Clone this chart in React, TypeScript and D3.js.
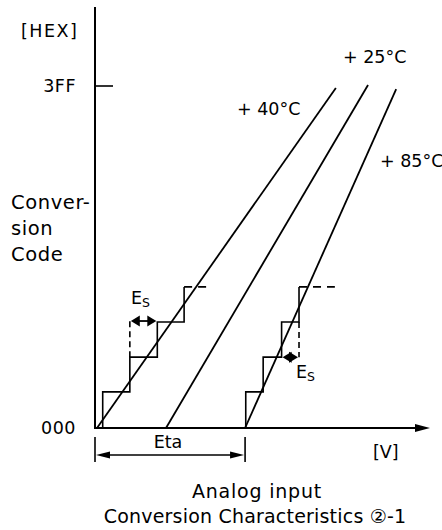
import * as d3 from "d3"

// analog input in arbitrary volts (0..100), output code 0..0x3FF
const curveLabels = ["+ 40°C", "+ 25°C", "+ 85°C"]
const curveStartV = [0.6, 21.2, 44.8]
const curveEndV = [71.9, 81.5, 89.9]
const curveEndCode = [1017, 1026, 1014]

const stepCodes = [0, 108, 212, 317, 422]
const stairLeftV = [2.3, 10.4, 18.6, 26.6]
const stairRightV = [45, 50.2, 55.7, 60.9]
const dashEndV = [34.9, 71.6]

const yTicks = [
  { code: 0, label: "000" },
  { code: 1023, label: "3FF" },
]
const yTitle = ["Conver-", "sion", "Code"]
const etaV = [0, 44.8]

const W = 442
const H = 530
const FONT = "'DejaVu Sans', sans-serif"

function arrowHead(tx: number, ty: number, dx: number, dy: number, len: number, half: number) {
  // dx,dy unit direction the arrow points to
  const bx = tx - dx * len
  const by = ty - dy * len
  const px = -dy
  const py = dx
  return `M${tx},${ty}L${bx + px * half},${by + py * half}L${bx - px * half},${by - py * half}Z`
}

export default function App() {
  const x = d3.scaleLinear().domain([0, 100]).range([95, 430])
  const y = d3.scaleLinear().domain([0, 1023]).range([428, 86])
  const line = d3
    .line<[number, number]>()
    .x((d) => x(d[0]))
    .y((d) => y(d[1]))

  const stairPts = (vs: number[]) => {
    const pts: [number, number][] = [[vs[0], 0]]
    for (let i = 0; i < vs.length; i++) {
      pts.push([vs[i], stepCodes[i + 1]])
      if (i < vs.length - 1) pts.push([vs[i + 1], stepCodes[i + 1]])
    }
    return pts
  }

  const x0 = x(0)
  const y0 = y(0)
  const axisTopY = 7
  const axisEndX = x(100)

  const labelPos = [
    { x: 237, y: 115 },
    { x: 343, y: 63 },
    { x: 380, y: 167 },
  ]

  const esLeftY = y(320)
  const esRightY = y(stepCodes[2])
  const etaY = 455
  const fs = 17.5

  return (
    <div style={{ position: "absolute", left: 0, top: 0 }}>
      <svg width={W} height={H} style={{ display: "block", background: "#fff" }} fontFamily={FONT}>
        {/* axes */}
        <line x1={x0} y1={axisTopY} x2={x0} y2={y0 + 1} stroke="#000" strokeWidth={2} />
        <line x1={x0} y1={y0} x2={axisEndX - 10} y2={y0} stroke="#000" strokeWidth={2} />
        <path d={arrowHead(axisEndX, y0, 1, 0, 15, 4)} fill="#000" />
        <line x1={x0} y1={y(1023)} x2={x0 + 18} y2={y(1023)} stroke="#000" strokeWidth={1.6} />

        {yTicks.map((t) => (
          <text key={t.label} x={76} y={y(t.code) + 6} fontSize={fs} textAnchor="end" letterSpacing={0.5}>
            {t.label}
          </text>
        ))}
        <text x={21} y={37} fontSize={fs} letterSpacing={1.5}>[HEX]</text>
        {yTitle.map((s, i) => (
          <text key={s} x={11} y={209 + i * 26} fontSize={19.5} letterSpacing={0.6}>
            {s}
          </text>
        ))}
        <text x={373} y={458} fontSize={fs}>[V]</text>

        {/* characteristic lines */}
        {curveLabels.map((lab, i) => (
          <g key={lab}>
            <path
              d={line([
                [curveStartV[i], 0],
                [curveEndV[i], curveEndCode[i]],
              ]) || ""}
              fill="none"
              stroke="#000"
              strokeWidth={1.8}
            />
            <text x={labelPos[i].x} y={labelPos[i].y} fontSize={fs}>
              {lab}
            </text>
          </g>
        ))}

        {/* staircases */}
        {[stairLeftV, stairRightV].map((vs, k) => (
          <g key={k}>
            <path d={line(stairPts(vs)) || ""} fill="none" stroke="#000" strokeWidth={1.6} />
            <line
              x1={x(vs[vs.length - 1])}
              y1={y(stepCodes[4])}
              x2={x(dashEndV[k])}
              y2={y(stepCodes[4])}
              stroke="#000"
              strokeWidth={1.6}
              strokeDasharray="8,6"
            />
          </g>
        ))}
        <line
          x1={x(stairLeftV[1])}
          y1={y(stepCodes[2])}
          x2={x(stairLeftV[1])}
          y2={y(stepCodes[3]) - 1}
          stroke="#000"
          strokeWidth={1.6}
          strokeDasharray="6,4"
        />
        <line
          x1={x(stairRightV[3])}
          y1={y(stepCodes[3])}
          x2={x(stairRightV[3])}
          y2={y(stepCodes[2])}
          stroke="#000"
          strokeWidth={1.6}
          strokeDasharray="6,4"
        />

        {/* Es arrows */}
        {[
          { a: x(stairLeftV[1]), b: x(stairLeftV[2]), yy: esLeftY },
          { a: x(stairRightV[2]), b: x(stairRightV[3]), yy: esRightY },
        ].map((e, i) => (
          <g key={i}>
            <line x1={e.a + 4} y1={e.yy} x2={e.b - 4} y2={e.yy} stroke="#000" strokeWidth={1.8} />
            <path d={arrowHead(e.a + 1, e.yy, -1, 0, 9, 5.5)} fill="#000" />
            <path d={arrowHead(e.b - 1, e.yy, 1, 0, 9, 5.5)} fill="#000" />
          </g>
        ))}
        <text x={131} y={304} fontSize={fs}>
          E<tspan fontSize={12.5} dy={3}>S</tspan>
        </text>
        <text x={296} y={378} fontSize={fs}>
          E<tspan fontSize={12.5} dy={3}>S</tspan>
        </text>

        {/* Eta */}
        {etaV.map((v) => (
          <line key={v} x1={x(v)} y1={437} x2={x(v)} y2={462} stroke="#000" strokeWidth={1.6} />
        ))}
        <line x1={x(etaV[0]) + 6} y1={etaY} x2={x(etaV[1]) - 6} y2={etaY} stroke="#000" strokeWidth={1.4} />
        <path d={arrowHead(x(etaV[0]) + 1, etaY, -1, 0, 14, 3.5)} fill="#000" />
        <path d={arrowHead(x(etaV[1]) - 1, etaY, 1, 0, 14, 3.5)} fill="#000" />
        <text x={168} y={448} fontSize={fs} textAnchor="middle">Eta</text>

        {/* caption */}
        <text x={257} y={498} fontSize={19} textAnchor="middle" letterSpacing={0.8}>Analog input</text>
        <text x={255} y={523} fontSize={19} textAnchor="middle" letterSpacing={0.2}>Conversion Characteristics ②-1</text>
      </svg>
    </div>
  )
}
